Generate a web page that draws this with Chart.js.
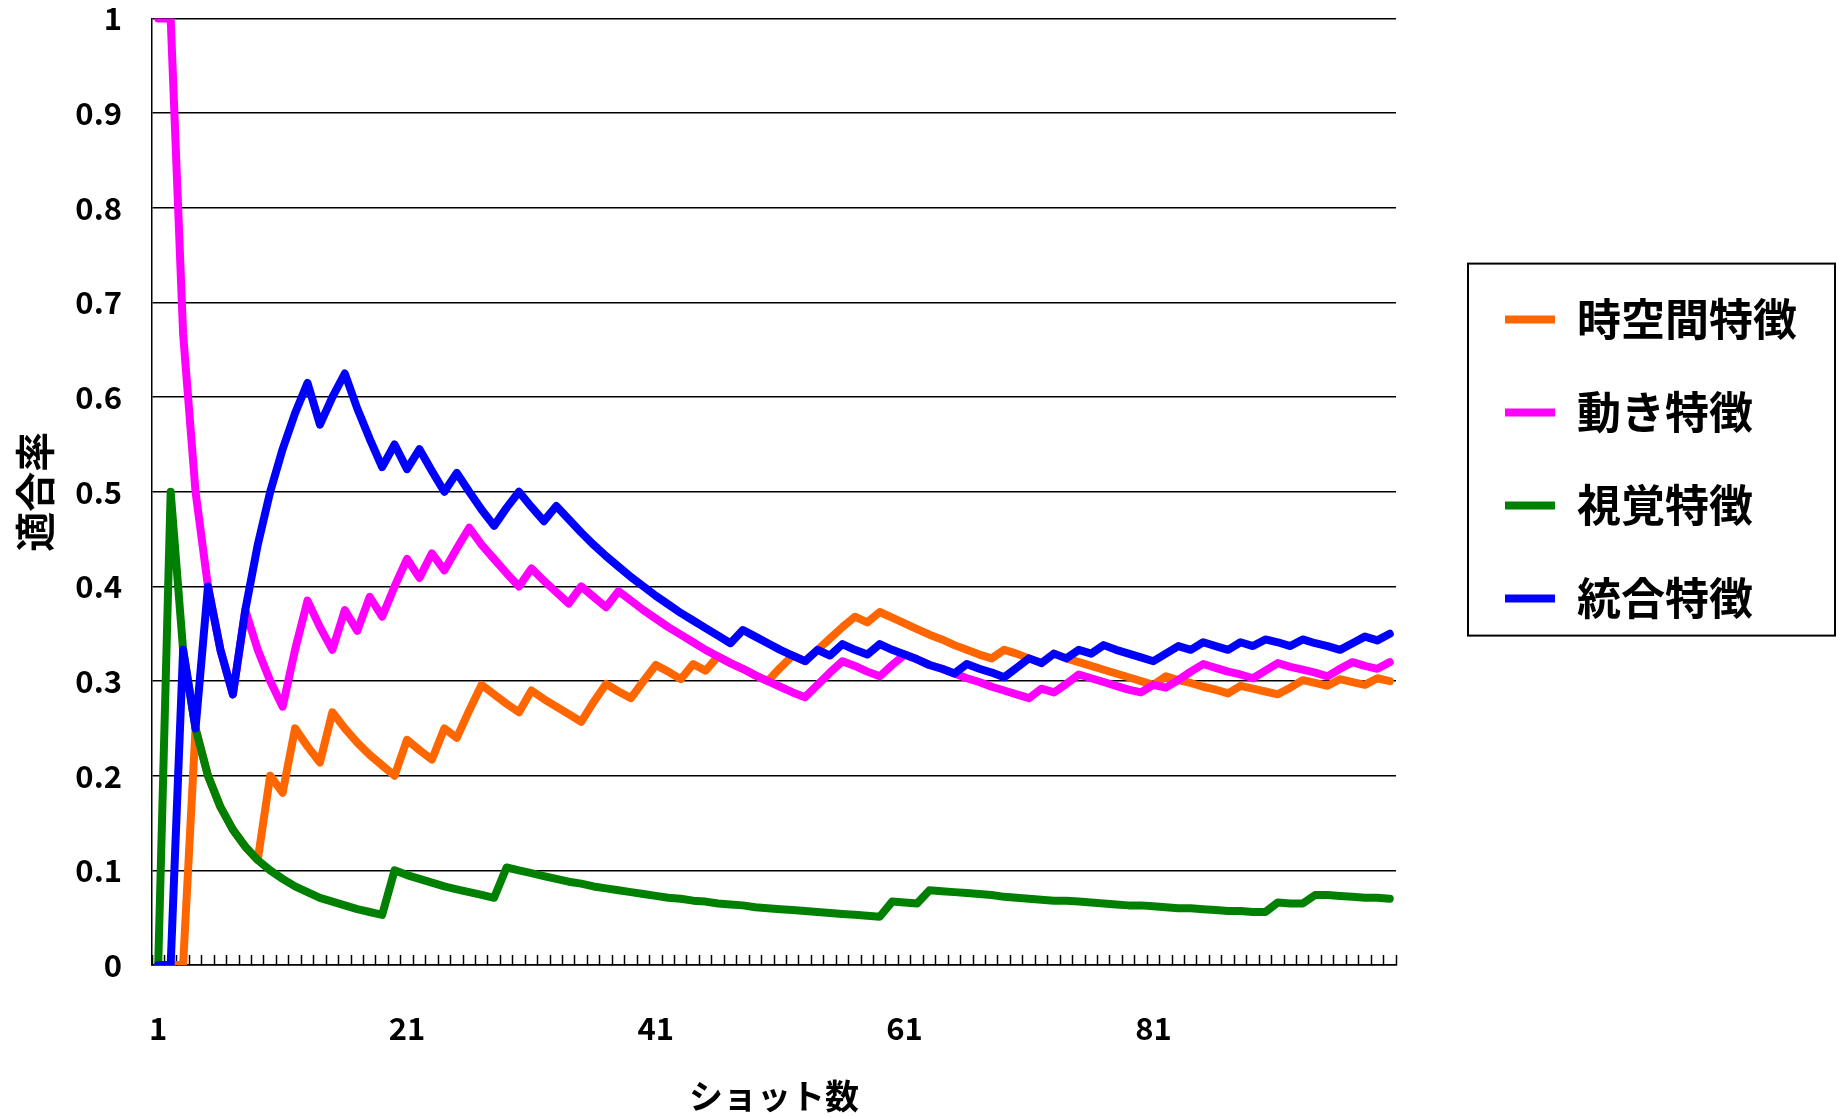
<!DOCTYPE html>
<html>
<head>
<meta charset="utf-8">
<script src="https://cdn.jsdelivr.net/npm/chart.js@4/dist/chart.umd.min.js"></script>
<style>
  body { margin: 0; background: #fff; }
</style>
</head>
<body>
<canvas id="myChart" width="1847" height="1118"></canvas>
<script>
// 適合率 per number of shots (ショット数 1..100)
const shots = Array.from({ length: 100 }, (_, i) => String(i + 1));
const tickLabels = ["1", "21", "41", "61", "81"];
const seriesNames = ["時空間特徴", "動き特徴", "視覚特徴", "統合特徴"];

const spatioTemporal = [
  0, 0, 0, 0.25, 0.2, 0.167, 0.143, 0.125, 0.111, 0.2,
  0.182, 0.25, 0.231, 0.214, 0.267, 0.25, 0.235, 0.222, 0.211, 0.2,
  0.238, 0.227, 0.217, 0.25, 0.24, 0.269, 0.296, 0.286, 0.276, 0.267,
  0.29, 0.281, 0.273, 0.265, 0.257, 0.278, 0.297, 0.289, 0.282, 0.3,
  0.317, 0.31, 0.302, 0.318, 0.311, 0.326, 0.319, 0.313, 0.306, 0.3,
  0.314, 0.327, 0.321, 0.333, 0.345, 0.357, 0.368, 0.362, 0.373, 0.367,
  0.361, 0.355, 0.349, 0.344, 0.338, 0.333, 0.328, 0.324, 0.333, 0.329,
  0.324, 0.319, 0.329, 0.324, 0.32, 0.316, 0.312, 0.308, 0.304, 0.3,
  0.296, 0.305, 0.301, 0.298, 0.294, 0.291, 0.287, 0.295, 0.292, 0.289,
  0.286, 0.293, 0.301, 0.298, 0.295, 0.302, 0.299, 0.296, 0.303, 0.3
];
const motion = [
  1, 1, 0.667, 0.5, 0.4, 0.333, 0.286, 0.375, 0.333, 0.3,
  0.273, 0.333, 0.385, 0.357, 0.333, 0.375, 0.353, 0.389, 0.368, 0.4,
  0.429, 0.409, 0.435, 0.417, 0.44, 0.462, 0.444, 0.429, 0.414, 0.4,
  0.419, 0.406, 0.394, 0.382, 0.4, 0.389, 0.378, 0.395, 0.385, 0.375,
  0.366, 0.357, 0.349, 0.341, 0.333, 0.326, 0.319, 0.313, 0.306, 0.3,
  0.294, 0.288, 0.283, 0.296, 0.309, 0.321, 0.316, 0.31, 0.305, 0.317,
  0.328, 0.323, 0.317, 0.313, 0.308, 0.303, 0.299, 0.294, 0.29, 0.286,
  0.282, 0.292, 0.288, 0.297, 0.307, 0.303, 0.299, 0.295, 0.291, 0.288,
  0.296, 0.293, 0.301, 0.31, 0.318, 0.314, 0.31, 0.307, 0.303, 0.311,
  0.319, 0.315, 0.312, 0.309, 0.305, 0.313, 0.32, 0.316, 0.313, 0.32
];
const visual = [
  0, 0.5, 0.333, 0.25, 0.2, 0.167, 0.143, 0.125, 0.111, 0.1,
  0.091, 0.083, 0.077, 0.071, 0.067, 0.063, 0.059, 0.056, 0.053, 0.1,
  0.095, 0.091, 0.087, 0.083, 0.08, 0.077, 0.074, 0.071, 0.103, 0.1,
  0.097, 0.094, 0.091, 0.088, 0.086, 0.083, 0.081, 0.079, 0.077, 0.075,
  0.073, 0.071, 0.07, 0.068, 0.067, 0.065, 0.064, 0.063, 0.061, 0.06,
  0.059, 0.058, 0.057, 0.056, 0.055, 0.054, 0.053, 0.052, 0.051, 0.067,
  0.066, 0.065, 0.079, 0.078, 0.077, 0.076, 0.075, 0.074, 0.072, 0.071,
  0.07, 0.069, 0.068, 0.068, 0.067, 0.066, 0.065, 0.064, 0.063, 0.063,
  0.062, 0.061, 0.06, 0.06, 0.059, 0.058, 0.057, 0.057, 0.056, 0.056,
  0.066, 0.065, 0.065, 0.074, 0.074, 0.073, 0.072, 0.071, 0.071, 0.07
];
const combined = [
  0, 0, 0.333, 0.25, 0.4, 0.333, 0.286, 0.375, 0.444, 0.5,
  0.545, 0.583, 0.615, 0.571, 0.6, 0.625, 0.588, 0.556, 0.526, 0.55,
  0.524, 0.545, 0.522, 0.5, 0.52, 0.5, 0.481, 0.464, 0.483, 0.5,
  0.484, 0.469, 0.485, 0.471, 0.457, 0.444, 0.432, 0.421, 0.41, 0.4,
  0.39, 0.381, 0.372, 0.364, 0.356, 0.348, 0.34, 0.354, 0.347, 0.34,
  0.333, 0.327, 0.321, 0.333, 0.327, 0.339, 0.333, 0.328, 0.339, 0.333,
  0.328, 0.323, 0.317, 0.313, 0.308, 0.318, 0.313, 0.309, 0.304, 0.314,
  0.324, 0.319, 0.329, 0.324, 0.333, 0.329, 0.338, 0.333, 0.329, 0.325,
  0.321, 0.329, 0.337, 0.333, 0.341, 0.337, 0.333, 0.341, 0.337, 0.344,
  0.341, 0.337, 0.344, 0.34, 0.337, 0.333, 0.34, 0.347, 0.343, 0.35
];
const lineColors = ["#ff6600", "#ff00ff", "#008000", "#0000ff"];

const jpFont = "'Noto Sans CJK JP', 'Noto Sans', sans-serif";
Chart.defaults.font.family = jpFont;
Chart.defaults.color = "#000";

function lineSet(i, values) {
  return {
    label: seriesNames[i],
    data: values,
    borderColor: lineColors[i],
    backgroundColor: lineColors[i],
    borderWidth: 8,
    borderCapStyle: "round",
    borderJoinStyle: "round",
    pointRadius: 0,
    tension: 0,
    fill: false,
    order: 3 - i   // later series drawn on top, like the original
  };
}

// frame around the legend
const legendFrame = {
  id: "legendFrame",
  afterDraw(chart) {
    const hb = chart.legend && chart.legend.legendHitBoxes;
    if (!hb || !hb.length) return;
    const last = hb[hb.length - 1];
    const ctx = chart.ctx;
    ctx.save();
    ctx.strokeStyle = "#000";
    ctx.lineWidth = 2;
    const x0 = hb[0].left - 37, y0 = hb[0].top - 34;
    ctx.strokeRect(x0, y0, 367, last.top + last.height + 15 - y0);
    ctx.restore();
  }
};

new Chart("myChart", {
  type: "line",
  data: {
    labels: shots,
    datasets: [
      lineSet(0, spatioTemporal),
      lineSet(1, motion),
      lineSet(2, visual),
      lineSet(3, combined)
    ]
  },
  options: {
    responsive: false,
    animation: false,
    events: [],
    layout: { padding: { top: 18, left: 0, right: 40, bottom: 2 } },
    plugins: {
      tooltip: { enabled: false },
      legend: {
        position: "right",
        align: "start",
        fullSize: false,
        maxWidth: 351,
        title: { display: true, text: "", font: { size: 10 }, padding: { top: 218, bottom: 0 } },
        labels: {
          usePointStyle: true,
          pointStyle: "line",
          pointStyleWidth: 50,
          padding: 49,
          color: "#000",
          font: { size: 44, weight: "bold" },
          sort: (a, b) => a.datasetIndex - b.datasetIndex
        }
      }
    },
    scales: {
      x: {
        type: "category",
        offset: true,
        grid: {
          display: true,
          offset: true,
          drawOnChartArea: false,
          drawTicks: true,
          tickLength: -10,
          tickColor: "#000",
          tickWidth: 1.5
        },
        border: { display: true, color: "#000", width: 1.5 },
        ticks: {
          autoSkip: false,
          maxRotation: 0,
          minRotation: 0,
          padding: 55,
          color: "#000",
          font: { size: 31, weight: "bold" },
          callback: function (v, i) {
            return tickLabels.includes(shots[i]) ? shots[i] : "";
          }
        },
        title: {
          display: true,
          text: "ショット数",
          color: "#000",
          font: { size: 34, weight: "bold" },
          padding: { top: -27, bottom: 0 }
        }
      },
      y: {
        min: 0,
        max: 1,
        grid: {
          color: "#000",
          lineWidth: 1.5,
          drawTicks: true,
          tickLength: 30,
          tickColor: "rgba(0,0,0,0)"
        },
        border: { display: true, color: "#000", width: 1.5 },
        ticks: {
          stepSize: 0.1,
          padding: 0,
          color: "#000",
          font: { size: 31, weight: "bold" },
          callback: function (v) { return String(Math.round(v * 10) / 10); }
        },
        title: {
          display: true,
          text: "適合率",
          color: "#000",
          font: { size: 40, weight: "bold" },
          padding: { top: 11, bottom: 0 }
        },
        afterFit: function (scale) { scale.width = 152; }
      },
      gap: {
        type: "linear",
        axis: "y",
        position: "right",
        display: true,
        grid: { display: false },
        border: { display: false },
        ticks: { display: false },
        afterFit: function (scale) { scale.width = 60; }
      }
    }
  },
  plugins: [legendFrame]
});
</script>
</body>
</html>
